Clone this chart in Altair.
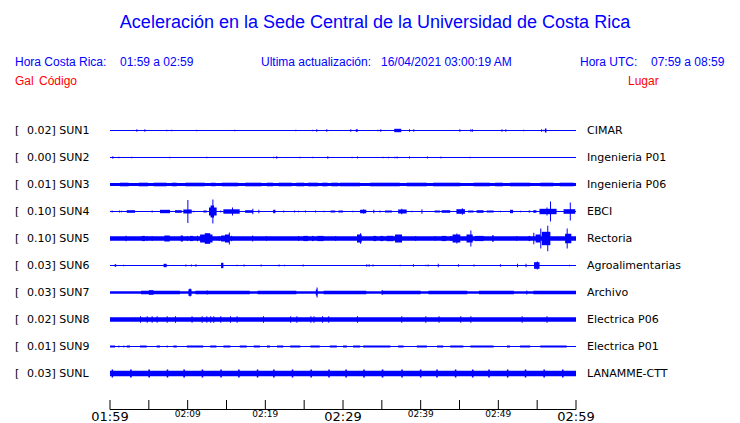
import altair as alt
import pandas as pd

BLUE = "#0000FF"

stations = ["SUN1", "SUN2", "SUN3", "SUN4", "SUN5", "SUN6", "SUN7", "SUN8", "SUN9", "SUNL"]
gal_values = ["0.02", "0.00", "0.01", "0.10", "0.10", "0.03", "0.03", "0.02", "0.01", "0.03"]
places = ["CIMAR", "Ingenieria P01", "Ingenieria P06", "EBCI", "Rectoria",
          "Agroalimentarias", "Archivo", "Electrica P06", "Electrica P01", "LANAMME-CTT"]
# continuous noise band thickness (px) per station
band_px = [1.0, 1.0, 3.0, 1.0, 4.5, 1.0, 2.4, 4.5, 1.0, 5.6]

# bursts: (start minute, end minute, half amplitude px)
sun1 = [(3.39, 3.39, 1.3), (4.42, 4.42, 1.3), (7.25, 7.25, 0.8), (7.89, 7.89, 0.8), (11.11, 11.11, 0.8),
        (16.0, 16.0, 0.8), (23.86, 23.86, 0.8), (26.05, 26.05, 0.8), (26.56, 26.56, 1.3), (27.85, 27.85, 1.3),
        (30.94, 30.94, 1.3), (31.65, 31.9, 1.3), (34.42, 34.42, 0.8), (34.8, 34.8, 1.3), (36.6, 37.5, 1.7),
        (38.5, 38.5, 1.3), (39.05, 39.05, 1.3), (44.98, 44.98, 1.3), (46.4, 46.4, 1.3), (46.6, 46.6, 1.3),
        (50.4, 50.4, 1.3), (50.9, 50.9, 1.3), (53.2, 53.2, 0.8), (55.5, 55.5, 1.3), (55.8, 55.8, 0.8),
        (56.0, 56.2, 2.0)]
sun2 = [(0.3, 0.3, 1.3), (1.07, 1.07, 0.8), (2.74, 2.74, 0.8), (7.64, 7.64, 0.8), (12.4, 12.4, 0.8),
        (21.0, 21.0, 0.8), (21.4, 21.4, 1.3), (24.4, 24.4, 0.8), (26.05, 26.05, 0.8), (27.98, 27.98, 1.3),
        (31.1, 31.1, 0.8), (31.8, 31.8, 1.0), (35.1, 35.1, 0.8), (35.8, 35.8, 0.8), (36.6, 36.6, 0.8),
        (36.9, 36.9, 1.0), (38.5, 38.5, 1.0), (40.8, 40.8, 1.0), (42.5, 42.7, 0.8), (46.3, 46.3, 0.8)]
sun3 = [(1.3, 2.4, 1.8), (3.7, 4.9, 1.8), (5.6, 7.3, 1.8), (8.0, 8.6, 1.8), (9.7, 12.2, 1.8), (13.0, 13.6, 1.8),
        (14.4, 16.5, 1.8), (17.4, 19.5, 1.8), (20.2, 21.0, 1.8), (21.7, 23.4, 1.8), (24.0, 25.0, 1.8),
        (25.5, 26.8, 1.8), (27.3, 28.0, 1.8), (28.5, 29.4, 1.8), (29.6, 32.2, 1.8), (33.5, 37.3, 1.8),
        (38.2, 40.8, 1.8), (41.6, 45.1, 1.8), (46.8, 48.9, 1.8), (49.6, 50.6, 1.8), (51.5, 54.1, 1.8),
        (55.4, 57.1, 1.8), (57.9, 59.7, 1.8)]
sun4 = [(0.21, 0.21, 1.0), (1.16, 1.16, 1.0), (1.42, 1.42, 0.7), (2.15, 3.22, 1.3), (5.36, 5.36, 1.0),
        (6.44, 7.73, 1.7), (8.37, 9.23, 1.3), (9.44, 10.52, 2.0), (9.96, 9.96, 11.5), (10.73, 10.73, 0.7),
        (12.02, 12.45, 1.0), (12.75, 13.73, 4.0), (12.95, 13.4, 6.0), (13.18, 13.18, 12.0), (14.2, 14.2, 1.0),
        (14.6, 16.7, 2.2), (15.71, 15.71, 4.0), (17.4, 18.4, 1.3), (18.33, 18.33, 2.7), (19.1, 19.1, 1.7),
        (21.0, 21.3, 1.7), (22.3, 22.3, 1.0), (23.7, 23.7, 1.0), (24.2, 24.2, 0.7), (25.1, 25.1, 1.0),
        (26.4, 26.4, 1.0), (27.5, 27.5, 0.7), (28.4, 29.0, 1.0), (29.4, 30.0, 1.0), (31.2, 31.2, 0.7),
        (32.2, 33.0, 1.7), (32.6, 32.6, 2.3), (33.9, 33.9, 1.7), (34.7, 34.7, 1.0), (35.4, 36.3, 1.0),
        (37.1, 38.2, 2.0), (37.5, 37.5, 2.7), (38.8, 38.8, 0.7), (40.1, 40.1, 2.3), (41.8, 42.5, 1.0),
        (42.7, 43.8, 1.3), (44.6, 45.7, 2.3), (45.3, 45.3, 3.3), (46.1, 46.8, 1.0), (47.2, 48.1, 1.3),
        (48.5, 49.4, 1.0), (50.2, 50.2, 0.7), (51.5, 51.9, 1.7), (52.8, 52.8, 0.7), (53.9, 54.1, 1.0),
        (54.5, 54.9, 1.3), (55.3, 57.5, 2.7), (56.2, 56.2, 4.0), (56.65, 56.65, 10.0), (58.4, 59.9, 2.3),
        (59.2, 59.2, 9.0)]
sun5 = [(2.0, 2.0, 2.7), (4.1, 4.5, 2.6), (4.7, 4.7, 2.6), (5.36, 5.36, 2.6), (7.0, 7.7, 3.0), (9.1, 9.4, 3.0),
        (9.9, 9.9, 2.6), (10.3, 10.7, 2.6), (11.2, 11.2, 2.7), (11.6, 13.2, 4.0), (12.2, 12.9, 5.3),
        (14.0, 14.0, 2.6), (14.3, 14.8, 3.0), (14.8, 15.4, 4.0), (15.3, 15.3, 6.0), (15.6, 15.6, 2.7),
        (18.3, 18.3, 3.0), (20.1, 20.1, 2.6), (24.2, 24.2, 2.6), (24.9, 25.5, 2.6), (26.0, 26.2, 2.6),
        (26.7, 27.5, 2.6), (29.0, 29.0, 2.6), (31.8, 32.4, 4.0), (32.2, 32.2, 5.3), (33.9, 34.3, 2.6),
        (34.8, 35.2, 2.6), (35.6, 36.5, 2.7), (36.7, 37.6, 4.0), (39.3, 39.3, 2.6), (41.8, 41.8, 2.6),
        (42.7, 43.3, 2.6), (43.8, 44.0, 2.6), (44.1, 45.1, 4.0), (44.6, 44.6, 5.0), (45.9, 46.7, 4.0),
        (46.4, 46.4, 8.0), (47.0, 48.1, 2.6), (49.2, 49.4, 3.3), (52.3, 52.3, 2.6), (53.9, 54.1, 2.6),
        (54.5, 54.5, 5.7), (54.8, 55.4, 4.0), (55.4, 55.4, 10.0), (55.6, 56.7, 6.7), (56.3, 56.3, 12.7),
        (58.6, 59.4, 4.7), (58.8, 58.8, 10.0)]
sun6 = [(0.6, 0.8, 1.3), (1.7, 1.7, 0.7), (6.9, 7.3, 1.7), (9.7, 9.7, 1.0), (10.4, 10.4, 1.0), (11.0, 11.0, 1.3),
        (14.3, 14.6, 2.7), (16.3, 16.3, 0.7), (17.2, 17.2, 1.0), (19.4, 19.4, 1.0), (21.7, 21.7, 1.0),
        (22.4, 22.4, 0.7), (24.8, 24.8, 1.0), (33.0, 33.0, 1.3), (33.3, 33.3, 1.3), (33.8, 33.8, 1.0),
        (37.3, 37.3, 0.7), (39.0, 39.0, 1.3), (40.6, 40.6, 0.7), (40.9, 40.9, 1.0), (42.2, 42.2, 1.7),
        (44.8, 44.8, 1.3), (46.8, 46.8, 1.0), (50.2, 50.2, 1.3), (52.4, 52.4, 1.7), (53.5, 53.5, 1.7),
        (54.6, 55.3, 3.3), (54.95, 54.95, 4.0), (59.1, 59.1, 0.7)]
sun7 = [(4.0, 9.0, 1.7), (11.0, 18.0, 1.7), (19.0, 24.0, 1.7), (27.5, 33.0, 1.7), (35.0, 40.0, 1.7),
        (41.0, 46.0, 1.7), (47.5, 52.0, 1.7), (54.5, 60.0, 1.7), (5.0, 5.6, 2.3), (10.1, 10.5, 3.3),
        (10.25, 10.25, 4.0), (12.45, 12.45, 2.0), (26.5, 26.7, 3.0), (26.6, 26.6, 5.0), (34.98, 34.98, 2.5),
        (53.6, 53.6, 2.0)]
sun8 = [(3.86, 3.86, 3.2), (4.72, 4.72, 3.2), (5.36, 5.36, 3.2), (6.0, 6.0, 3.2), (7.3, 7.3, 3.2),
        (8.37, 8.37, 3.2), (10.5, 10.5, 3.2), (11.8, 11.8, 3.2), (12.4, 12.4, 3.2), (12.9, 12.9, 3.2),
        (13.3, 13.3, 3.2), (14.2, 14.2, 3.2), (15.45, 15.45, 3.2), (16.3, 16.3, 3.2), (19.7, 19.7, 3.2),
        (23.2, 23.2, 3.2), (24.0, 24.0, 3.2), (25.8, 25.8, 3.2), (26.2, 26.2, 3.2), (27.3, 27.3, 3.2),
        (28.1, 28.1, 3.2), (31.8, 31.8, 3.2), (37.5, 37.5, 3.2), (40.6, 40.6, 3.2), (42.3, 42.3, 3.2),
        (45.1, 45.1, 3.2), (46.4, 46.4, 3.2), (53.0, 53.0, 3.2), (56.2, 56.2, 3.2)]
sun9 = [(0.0, 0.65, 1.0), (1.07, 1.07, 1.0), (1.72, 1.72, 1.0), (2.15, 2.58, 1.0), (3.87, 4.72, 1.0),
        (6.0, 6.44, 1.0), (7.3, 7.3, 1.0), (8.16, 8.59, 1.0), (9.88, 12.0, 1.0), (12.9, 13.7, 1.0),
        (14.6, 15.5, 1.0), (16.7, 17.6, 1.0), (18.5, 19.3, 1.0), (20.2, 20.6, 1.0), (21.5, 22.3, 1.0),
        (23.2, 24.5, 1.0), (25.8, 27.0, 1.0), (28.3, 29.2, 1.0), (30.0, 30.5, 1.0), (31.3, 32.2, 1.0),
        (32.6, 36.1, 1.0), (37.1, 37.8, 1.0), (39.5, 40.8, 1.0), (42.1, 42.9, 1.0), (43.8, 45.5, 1.0),
        (46.4, 49.4, 1.0), (51.1, 51.5, 1.0), (52.8, 54.1, 1.0), (55.4, 58.8, 1.0)]
sunl = [(0.21, 0.4, 4.0), (2.58, 2.8, 4.0), (4.94, 5.15, 4.0), (7.3, 7.5, 4.0), (9.44, 9.65, 4.0),
        (11.8, 12.0, 4.0), (14.2, 14.4, 4.0), (16.5, 16.7, 4.0), (18.9, 19.1, 4.0), (21.0, 21.2, 4.0),
        (23.4, 23.6, 4.0), (25.8, 26.0, 4.0), (28.1, 28.3, 4.0), (30.3, 30.5, 4.0), (32.6, 32.8, 4.0),
        (34.98, 35.2, 4.0), (37.5, 37.7, 4.0), (39.9, 40.1, 4.0), (42.0, 42.2, 4.0), (44.4, 44.6, 4.0),
        (46.6, 46.8, 4.0), (48.7, 48.9, 4.0), (51.1, 51.3, 4.0), (53.4, 53.6, 4.0), (55.8, 56.0, 4.0),
        (58.2, 58.4, 4.0)]
events_by_station = [sun1, sun2, sun3, sun4, sun5, sun6, sun7, sun8, sun9, sunl]

tick_minutes = list(range(0, 61, 5))
label_minutes = [0, 10, 20, 30, 40, 50, 60]
label_texts = ["01:59", "02:09", "02:19", "02:29", "02:39", "02:49", "02:59"]
label_big = [True, False, False, True, False, False, True]

ROW_PX = 27.0
W, H = 466, 297
TOP = 95.5           # padding so that row centres fall mid-pixel
ORIGIN_Y = 8 + TOP   # page y of plot top
ORIGIN_X = 110

# ---- tables
rows = pd.DataFrame({
    "row": list(range(1, 11)),
    "station": stations,
    "gal": [f"{g}] {s}" for g, s in zip(gal_values, stations)],
    "place": places,
})
band = pd.DataFrame({
    "row": list(range(1, 11)),
    "x": [0] * 10,
    "x2": [60] * 10,
    "y": [r - b / 2 / ROW_PX for r, b in zip(range(1, 11), band_px)],
    "y2": [r + b / 2 / ROW_PX for r, b in zip(range(1, 11), band_px)],
})
ev = []
for i, evs in enumerate(events_by_station):
    r = i + 1
    for s, e, a in evs:
        ev.append({"x": s, "x2": max(e, s + 60 / W), "y": r - a / ROW_PX, "y2": r + a / ROW_PX})
ev = pd.DataFrame(ev)

xs = alt.Scale(domain=[0, 60], nice=False, zero=False)
ys = alt.Scale(domain=[0, 11], reverse=True, nice=False, zero=False)

band_l = alt.Chart(band).mark_rect(color=BLUE).encode(
    x=alt.X("x:Q", scale=xs, axis=None), x2="x2:Q",
    y=alt.Y("y:Q", scale=ys, axis=None), y2="y2:Q")
ev_l = alt.Chart(ev).mark_rect(color=BLUE).encode(
    x=alt.X("x:Q", scale=xs, axis=None), x2="x2:Q",
    y=alt.Y("y:Q", scale=ys, axis=None), y2="y2:Q")

left_bracket = alt.Chart(rows).mark_text(align="left", baseline="middle", font="DejaVu Sans",
                                         fontSize=11, color="black", text="[").encode(
    x=alt.value(15 - ORIGIN_X), y=alt.Y("row:Q", scale=ys, axis=None))
left_lab = alt.Chart(rows).mark_text(align="left", baseline="middle", font="DejaVu Sans",
                                     fontSize=11, color="black").encode(
    x=alt.value(27 - ORIGIN_X), y=alt.Y("row:Q", scale=ys, axis=None), text="gal:N")
right_lab = alt.Chart(rows).mark_text(align="left", baseline="middle", font="DejaVu Sans",
                                      fontSize=11, color="black").encode(
    x=alt.value(587 - ORIGIN_X), y=alt.Y("row:Q", scale=ys, axis=None), text="place:N")

# time axis
axis_df = pd.DataFrame({"a": [0], "b": [60]})
axis_line = alt.Chart(axis_df).mark_rule(color="black", strokeWidth=1).encode(
    x=alt.X("a:Q", scale=xs, axis=None), x2="b:Q", y=alt.value(409.5 - ORIGIN_Y))
ticks = alt.Chart(pd.DataFrame({"m": tick_minutes})).mark_rule(color="black", strokeWidth=1).encode(
    x=alt.X("m:Q", scale=xs, axis=None), y=alt.value(400 - ORIGIN_Y), y2=alt.value(409.5 - ORIGIN_Y))
lab_df = pd.DataFrame({"m": label_minutes, "t": label_texts, "big": label_big})
big_lab = alt.Chart(lab_df[lab_df.big]).mark_text(font="DejaVu Sans", fontSize=13, color="black",
                                                  baseline="middle", align="center").encode(
    x=alt.X("m:Q", scale=xs, axis=None), y=alt.value(416.5 - ORIGIN_Y), text="t:N")
small_lab = alt.Chart(lab_df[~lab_df.big]).mark_text(font="DejaVu Sans", fontSize=9, color="black",
                                                     baseline="middle", align="center").encode(
    x=alt.X("m:Q", scale=xs, axis=None), y=alt.value(413.5 - ORIGIN_Y), text="t:N")

one = pd.DataFrame({"k": [0]})


def header(text, px, py, size=12, color=BLUE, align="left"):
    return alt.Chart(one).mark_text(text=text, font="Liberation Sans", fontSize=size, color=color,
                                    align=align, baseline="middle").encode(
        x=alt.value(px - ORIGIN_X), y=alt.value(py - ORIGIN_Y))


headers = [
    header("Aceleración en la Sede Central de la Universidad de Costa Rica", 375, 23, size=18, align="center"),
    header("Hora Costa Rica:", 15, 61.5),
    header("01:59 a 02:59", 120, 61.5),
    header("Ultima actualización:", 261, 61.5),
    header("16/04/2021 03:00:19 AM", 381, 61.5),
    header("Hora UTC:", 580, 61.5),
    header("07:59 a 08:59", 651, 61.5),
    header("Gal", 15, 80.5, color="#FF0000"),
    header("Código", 39, 80.5, color="#FF0000"),
    header("Lugar", 628, 80.5, color="#FF0000"),
]

chart = alt.layer(
    band_l, ev_l, left_bracket, left_lab, right_lab, axis_line, ticks, big_lab, small_lab, *headers
).properties(
    width=W, height=H,
    autosize=alt.AutoSizeParams(type="none"),
    padding={"left": 102, "top": TOP, "right": 156, "bottom": 25},
    background="white",
).configure_view(stroke=None)

chart.save("out.html", embed_options={"renderer": "svg", "actions": False})
